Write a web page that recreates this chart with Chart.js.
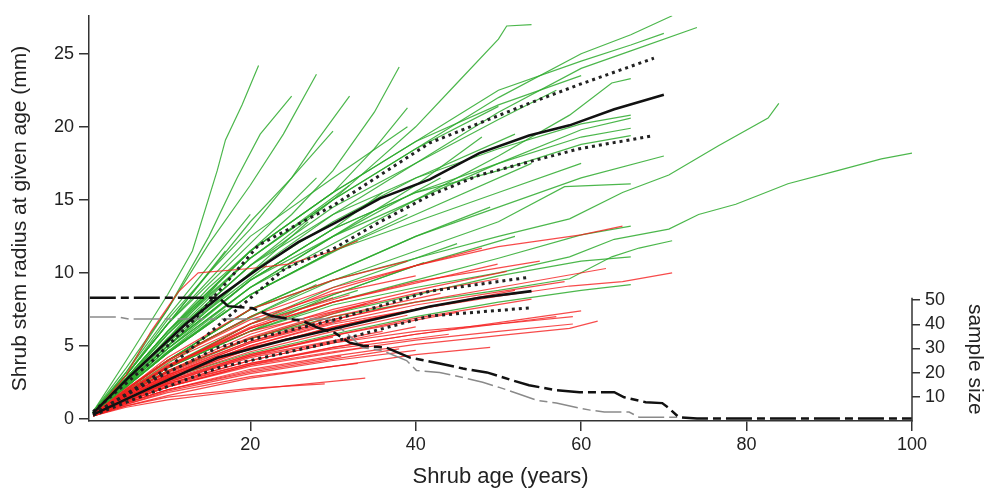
<!DOCTYPE html>
<html>
<head>
<meta charset="utf-8">
<script src="https://cdn.jsdelivr.net/npm/chart.js@4"></script>
<style>
  html, body { margin: 0; padding: 0; background: #fff; }
  #wrap { width: 985px; height: 490px; }
</style>
</head>
<body>
<div id="wrap"><canvas id="shrubs" width="985" height="490"></canvas></div>
<script>
// ---- data: [age (years), stem radius (mm)] ----
const greenShrubs = [
  [[1,0.5],[5,4],[10,8.5],[13,11.5],[16,17],[17,19.1],[19,21.5],[21,24.2]],
  [[1,0.5],[5,3.5],[10,7.5],[15,12],[20,16],[24,19.5],[28,23.6]],
  [[1,0.5],[5,3.2],[10,7.5],[15,12.5],[18.4,16.5],[21.2,19.5],[25,22.1]],
  [[1,0.4],[5,3],[10,6.5],[15,10],[20,13],[25,16.5],[28,19],[32,22.1]],
  [[1,0.4],[5,2.8],[10,6],[15,9],[20,11.5],[25,14],[30,17],[35,21],[38,24.1]],
  [[1,0.4],[5,2.8],[10,6],[20,11.5],[25,13.5],[30,15.5],[35,18.5],[39,21.3]],
  [[1,0.4],[5,3],[10,6.8],[15,10],[20,13.5],[25,16.5],[30,19.7]],
  [[1,0.4],[5,2.5],[10,5.5],[20,10.5],[30,15],[35,17.5],[40,20],[45,23],[50,26],[51,26.9],[54,27.0]],
  [[1,0.4],[5,2.5],[10,5.5],[20,11],[30,15],[40,18.5],[50,22],[60,25],[66,26.3],[71,27.6]],
  [[1,0.4],[5,2.4],[10,5],[20,10],[30,14],[40,17.5],[50,21],[60,24],[66,25.2],[74,26.8]],
  [[1,0.4],[5,2.6],[10,5.8],[20,11.5],[30,15.5],[40,19],[50,22.5],[60,24.5],[66,25.6],[70,26.4]],
  [[1,0.4],[5,2.3],[10,4.8],[20,9],[30,12],[40,15],[50,18],[58.6,20.8],[63.7,23],[66,23.3]],
  [[1,0.4],[5,2.6],[10,5.5],[20,10.5],[30,14],[40,16.5],[50,18.5],[60,20.2],[66,20.8]],
  [[1,0.4],[5,2.2],[10,4.6],[20,9],[30,12.5],[40,15],[50,17.5],[60,19.8],[66,20.6]],
  [[1,0.4],[5,2.4],[10,5],[20,9.5],[30,13],[40,15.5],[50,17.5],[60,19.3],[66,19.9]],
  [[1,0.4],[5,2.3],[10,4.8],[20,9.5],[30,13],[40,15.5],[50,17],[60,18.8],[66,19.4]],
  [[1,0.4],[5,2],[10,4],[20,7.5],[30,10],[40,12.5],[50,14.5],[60,16.5],[70,18.0]],
  [[1,0.4],[5,2],[10,4],[20,7],[30,9.5],[40,11.5],[50,13.5],[58,15.9],[66,16.1]],
  [[1,0.4],[5,2],[10,4],[20,7.5],[30,9.5],[40,11],[50,12.5],[58.6,13.7],[65,15.5],[70.6,16.7],[76.6,18.7],[82.6,20.6],[83.9,21.6]],
  [[1,0.4],[5,1.8],[10,3.5],[20,6],[30,7.8],[40,9],[50,10],[58.6,11.1],[64,12.3],[70.6,13],[74.2,14],[78.7,14.7],[81.4,15.3],[85,16.1],[91,17],[96.3,17.8],[100,18.2]],
  [[1,0.4],[5,1.8],[10,3.5],[20,6],[30,8],[40,9.5],[50,11],[60,12.6],[66,13.2]],
  [[1,0.4],[5,1.8],[10,3.3],[20,5.5],[30,7],[40,8],[50,8.8],[58.6,9.6],[63.7,11.1],[67,11.7],[71,12.2]],
  [[1,0.4],[5,1.8],[10,3.2],[20,5.5],[30,7.2],[40,8.5],[50,9.8],[60,10.8],[66,11.1]],
  [[1,0.3],[5,1.5],[10,2.8],[20,4.5],[30,5.8],[40,7],[50,8],[60,8.8],[66,9.2]],
  [[1,0.4],[5,2.5],[10,5],[20,9.5],[30,12.5],[40,16],[48,19.3]],
  [[1,0.3],[5,1.8],[10,3.5],[20,6],[30,8.5],[41,10.7]],
  [[1,0.5],[5,3],[10,6.5],[17,11.5]],
  [[1,0.4],[5,2.2],[10,4.5],[17,7.5]],
  [[1,0.4],[5,2.6],[10,5.5],[16,9.2]],
  [[1,0.4],[5,3.2],[10,7],[15,10.5],[20,14]],
  [[1,0.4],[5,2.5],[10,5],[15,7.5],[22,10.5]],
  [[1,0.4],[5,1.9],[10,3.8],[15,5.5],[22,7.5]],
  [[1,0.4],[5,2.6],[10,5.5],[20,10],[27,13.5]],
  [[1,0.4],[5,3],[10,6.5],[20,12],[28,16.5]],
  [[1,0.3],[5,2],[10,4],[20,7],[28,9.2]],
  [[1,0.4],[5,2.8],[10,6],[20,11],[32,16]],
  [[1,0.4],[5,2.2],[10,4.5],[20,8.5],[32,12]],
  [[1,0.3],[5,1.8],[10,3.6],[20,6.5],[33,8.8]],
  [[1,0.4],[5,2.4],[10,5],[20,9.5],[30,13],[36,15.5]],
  [[1,0.4],[5,2.2],[10,4.6],[20,8.5],[30,11.5],[39,14]],
  [[1,0.4],[5,3],[10,6.5],[20,12.5],[30,16.5],[39,20]],
  [[1,0.4],[5,2.3],[10,4.8],[20,9],[30,12.5],[43,16.5]],
  [[1,0.3],[5,1.8],[10,3.5],[20,6.5],[30,9],[45,12]],
  [[1,0.4],[5,2.7],[10,5.8],[20,11],[30,15],[40,18.5],[50,21.4]],
  [[1,0.4],[5,2],[10,4],[20,7.5],[30,10],[40,12.5],[49,14.5]],
  [[1,0.4],[5,2.5],[10,5.2],[20,10],[30,13.5],[40,16.5],[52,19.5]],
  [[1,0.3],[5,1.8],[10,3.5],[20,6.5],[30,8.5],[40,10.5],[52,12.5]],
  [[1,0.4],[5,2.2],[10,4.5],[20,8.5],[30,11.5],[40,14],[54,17.5]],
  [[1,0.4],[5,2.6],[10,5.5],[20,10.5],[30,14.5],[40,17.5],[50,20.5],[57,22.5]],
  [[1,0.4],[5,2.2],[10,4.5],[20,8.5],[30,11.5],[40,13.5],[50,15.5],[60,17.5]],
  [[1,0.4],[5,2.8],[10,6],[20,11.5],[30,15.5],[40,19],[50,21.5],[60,23.5]]
];

const redShrubs = [
  [[1,0.3],[5,3],[8,6],[11.3,8.7],[13.7,10],[20,10.3],[24.6,10.6],[30,11.5],[33,12.2]],
  [[1,0.3],[5,2],[10,4],[20,7],[30,9],[40,10.5],[48,11.7]],
  [[1,0.3],[5,2],[10,4.2],[20,7.5],[30,9.5],[39,10.8]],
  [[1,0.3],[5,1.8],[10,3.5],[20,6.2],[30,8],[40,9.3],[49.9,10.6]],
  [[1,0.3],[5,1.7],[10,3.3],[20,5.8],[30,7.5],[40,8.8],[51,10.1]],
  [[1,0.3],[5,1.5],[10,2.9],[20,5],[30,6.6],[40,7.8],[50,8.7],[58,9.4]],
  [[1,0.3],[5,1.8],[10,3.5],[20,6.5],[30,8.8],[40,10.5],[50,11.8],[60,12.6],[65,13.2]],
  [[1,0.3],[5,1.5],[10,2.8],[20,4.8],[30,6.3],[40,7.5],[50,8.4],[58.6,9.1],[65,9.4],[71,10.0]],
  [[1,0.3],[5,1.2],[10,2.3],[20,3.8],[30,4.9],[40,5.8],[50,6.5],[57,7.0]],
  [[1,0.3],[5,1.3],[10,2.4],[20,4],[30,5.2],[40,6],[50,6.5],[59,7.0]],
  [[1,0.3],[5,1.1],[10,2],[20,3.4],[30,4.3],[40,5.1],[50,5.7],[58.6,6.2],[62,6.7]],
  [[1,0.3],[5,1.2],[10,2.2],[20,3.7],[30,4.6],[40,5.4],[50,6],[59,6.5]],
  [[1,0.3],[5,1.3],[10,2.4],[20,3.8],[30,4.8],[44,5.8]],
  [[1,0.2],[5,0.9],[10,1.6],[20,2.8],[30,3.6],[40,4.4],[49,4.9]],
  [[1,0.2],[5,0.8],[10,1.3],[20,2],[25,2.3],[33.9,2.8]],
  [[1,0.2],[5,0.9],[10,1.5],[20,2.1],[29,2.4]],
  [[1,0.3],[5,1.6],[10,3],[20,5],[30,6.5],[40,7.5],[46,8.1]],
  [[1,0.3],[5,1.7],[10,3.3],[20,5.5],[30,7.2],[35.7,8.2]],
  [[1,0.3],[5,1.8],[10,3.6],[20,6.3],[30,8.3]],
  [[1,0.3],[5,1.4],[10,2.7],[20,4.4],[30,5.6]],
  [[1,0.2],[5,1.1],[10,2],[20,3.3],[31,4.3]],
  [[1,0.3],[5,1.6],[10,3],[20,5.2],[31,6.8]],
  [[1,0.3],[5,1.3],[10,2.5],[20,4.2],[32,5.5]],
  [[1,0.3],[5,2],[10,3.9],[20,6.5],[32,8.5]],
  [[1,0.2],[5,1],[10,1.8],[20,2.9],[33,3.8]],
  [[1,0.3],[5,1.5],[10,2.9],[20,4.9],[33,6.6]],
  [[1,0.3],[5,1.9],[10,3.7],[20,6],[34,7.9]],
  [[1,0.2],[5,1.2],[10,2.2],[20,3.6],[34,4.9]],
  [[1,0.3],[5,1.4],[10,2.6],[20,4.3],[36,6]],
  [[1,0.3],[5,1.7],[10,3.2],[20,5.3],[30,6.8],[38,7.8]],
  [[1,0.2],[5,1.1],[10,2],[20,3.2],[30,4.1],[38,4.8]],
  [[1,0.3],[5,1.5],[10,2.8],[20,4.6],[30,6],[39,7.1]],
  [[1,0.3],[5,2.1],[10,4],[20,6.8],[30,8.6],[40,9.8]],
  [[1,0.3],[5,1.3],[10,2.4],[20,4],[30,5.2],[40,6.3]],
  [[1,0.2],[5,1],[10,1.9],[20,3.1],[30,4],[40,4.7]],
  [[1,0.3],[5,1.6],[10,3.1],[20,5.3],[30,7],[43,8.6]],
  [[1,0.3],[5,1.4],[10,2.6],[20,4.4],[30,5.7],[45,7.3]],
  [[1,0.3],[5,1.7],[10,3.2],[20,5.6],[30,7.3],[40,8.6],[50,9.6]],
  [[1,0.3],[5,1.5],[10,2.8],[20,4.8],[30,6.3],[40,7.5],[52,8.8]],
  [[1,0.3],[5,1.3],[10,2.5],[20,4.3],[30,5.7],[40,6.9],[54,8.2]],
  [[1,0.3],[5,1.9],[10,3.6],[20,6.2],[30,8],[40,9.4],[55,10.8]],
  [[1,0.3],[5,1.2],[10,2.2],[20,3.7],[30,4.9],[40,5.8],[50,6.6],[60,7.4]],
  [[1,0.3],[5,1.6],[10,3],[20,5.2],[30,6.8],[40,8],[50,9],[63,10.3]]
];

const greenMean = [[1,0.4],[5.3,2.85],[12.2,6.5],[16.1,8.3],[21,10.3],[25.8,12.1],[30.2,13.4],[35.7,15.1],[41.7,16.4],[47.7,18.2],[53.7,19.4],[58.6,20.1],[64,21.2],[70,22.2]];
const greenUpper = [[1,0.5],[8.2,4],[13.4,6.9],[21,11.9],[30,14.6],[41.7,18.9],[53.7,21.6],[59.8,22.9],[68.8,24.7]];
const greenLower = [[1,0.3],[10.1,3.5],[18.2,7.4],[24.2,10.3],[30.2,11.7],[35.7,13.5],[41.7,15.3],[47.7,16.7],[53.7,17.6],[59.8,18.5],[68.8,19.4]];
const redMean = [[1,0.3],[8.2,2.2],[16.1,4.2],[24.2,5.4],[29.6,6.1],[41.7,7.7],[47.7,8.3],[54,8.75]];
const redUpper = [[1,0.35],[8,2.6],[16.1,4.9],[30.2,6.8],[41.7,8.75],[53.7,9.7]];
const redLower = [[1,0.25],[8,1.8],[16.1,3.5],[30.2,5.3],[41.7,7.05],[53.7,7.6]];

// sample size (number of shrubs still alive at a given age)
const greenSampleSize = [[0.6,51],[16.2,51],[17.3,47.5],[20.2,46.7],[22.6,43.4],[26.3,41.4],[28.2,38.5],[30.2,36.5],[32,32.4],[33.6,31.1],[36.5,30.3],[39.3,26.2],[42.9,23.8],[45.7,21.7],[48.6,20.1],[51.7,16.8],[53.7,14.8],[57,12.7],[59.8,11.9],[64,11.9],[65.2,9.8],[67.8,7.8],[69.8,7.4],[70.6,5.3],[71.8,1.6],[74,1],[100,1]];
const redSampleSize = [[0.6,43],[4.1,43],[5.3,42.2],[29.6,42.2],[32,35.2],[33.6,30.3],[36,29.1],[38.9,25],[40.1,20.9],[42.9,20.1],[45.7,18],[48.1,16],[50.1,13.9],[52.2,11.5],[54.6,8.6],[57,7.4],[59.8,5.3],[61.1,4.5],[62.8,3.7],[65.8,3.7],[67,1.6],[72,1.6]];

const xTicks = [20, 40, 60, 80, 100];
const yTicks = [0, 5, 10, 15, 20, 25];
const sampleTicks = [10, 20, 30, 40, 50];

const FONT = '"Liberation Sans", Arial, Helvetica, sans-serif';
const toXY = (arr) => arr.map(p => ({ x: p[0], y: p[1] }));

let datasets = [];

greenShrubs.forEach((s) => {
  datasets.push({ data: toXY(s), borderColor: 'rgba(45,170,45,0.85)', borderWidth: 1.2, order: 3 });
});
redShrubs.forEach((s) => {
  datasets.push({ data: toXY(s), borderColor: 'rgba(245,30,30,0.8)', borderWidth: 1.2, order: 2 });
});

[greenMean, redMean].forEach((s) => {
  datasets.push({ data: toXY(s), borderColor: '#111', borderWidth: 2.6, order: 1 });
});
[greenUpper, greenLower, redUpper, redLower].forEach((s) => {
  datasets.push({ data: toXY(s), borderColor: '#222', borderWidth: 3, borderDash: [3, 4], order: 1 });
});

datasets.push({ data: toXY(redSampleSize), yAxisID: 'y2', borderColor: '#8a8a8a', borderWidth: 1.5, borderDash: [26, 5, 8, 5], order: 1 });
datasets.push({ data: toXY(greenSampleSize), yAxisID: 'y2', borderColor: '#111', borderWidth: 2.5, borderDash: [26, 5, 8, 5], order: 0 });

const extras = {
  id: 'extras',
  afterDraw(chart) {
    const { ctx, chartArea } = chart;
    const y2 = chart.scales.y2;
    const topPx = y2.getPixelForValue(51);
    ctx.save();
    ctx.strokeStyle = '#333';
    ctx.lineWidth = 1.5;
    ctx.beginPath();
    ctx.moveTo(chartArea.right, chartArea.bottom + 0.75);
    ctx.lineTo(chartArea.right, topPx);
    ctx.stroke();
    ctx.font = '21px ' + FONT;
    ctx.fillStyle = '#222';
    ctx.textAlign = 'center';
    ctx.textBaseline = 'middle';
    ctx.translate(chart.width - 10, (chartArea.bottom + topPx) / 2);
    ctx.rotate(Math.PI / 2);
    ctx.fillText('sample size', 0, 0);
    ctx.restore();
  }
};

new Chart(document.getElementById('shrubs'), {
  type: 'line',
  data: { datasets: datasets },
  options: {
    responsive: false,
    animation: false,
    events: [],
    elements: { point: { radius: 0 }, line: { tension: 0, fill: false } },
    layout: { padding: { top: 12, left: 0, right: 0, bottom: 0 } },
    plugins: { legend: { display: false }, tooltip: { enabled: false } },
    scales: {
      x: {
        type: 'linear',
        min: 0.5,
        max: 100,
        afterFit: (s) => { s.height = 69; },
        afterBuildTicks: (s) => { s.ticks = xTicks.map(v => ({ value: v })); },
        grid: { display: true, drawOnChartArea: false, drawTicks: true, tickLength: 10, color: '#333', lineWidth: 1.5 },
        border: { display: true, color: '#333', width: 1.5 },
        ticks: { color: '#222', font: { family: FONT, size: 18 }, padding: 3, maxRotation: 0 },
        title: { display: true, text: 'Shrub age (years)', color: '#222', font: { family: FONT, size: 22 }, padding: { top: 0, bottom: 0 } }
      },
      y: {
        type: 'linear',
        position: 'left',
        min: -0.14,
        max: 27.6,
        afterFit: (s) => { s.width = 89; },
        afterBuildTicks: (s) => { s.ticks = yTicks.map(v => ({ value: v })); },
        grid: { display: true, drawOnChartArea: false, drawTicks: true, tickLength: 10, color: '#333', lineWidth: 1.5 },
        border: { display: true, color: '#333', width: 1.5 },
        ticks: { color: '#222', font: { family: FONT, size: 18 }, padding: 5 },
        title: { display: true, text: 'Shrub stem radius at given age (mm)', color: '#222', font: { family: FONT, size: 21 }, padding: { top: 8, bottom: 8 } }
      },
      y2: {
        type: 'linear',
        position: 'right',
        min: 0,
        max: 167.6,
        afterFit: (s) => { s.width = 73; },
        afterBuildTicks: (s) => { s.ticks = sampleTicks.map(v => ({ value: v })); },
        grid: { display: true, drawOnChartArea: false, drawTicks: true, tickLength: 8, color: '#333', lineWidth: 1.5 },
        border: { display: false },
        ticks: { color: '#222', font: { family: FONT, size: 18 }, padding: 5 }
      }
    }
  },
  plugins: [extras]
});
</script>
</body>
</html>
